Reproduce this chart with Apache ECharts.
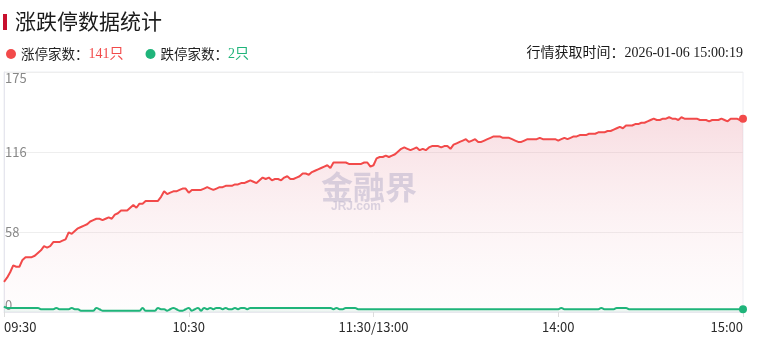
<!DOCTYPE html>
<html>
<head>
<meta charset="utf-8">
<script src="https://cdn.jsdelivr.net/npm/echarts@6/dist/echarts.min.js"></script>
<style>
html,body{margin:0;padding:0;background:#fff;}
#c{width:766px;height:359px;}
</style>
</head>
<body>
<div id="c"></div>
<script>
// ---- data ----
const titleText = '涨跌停数据统计';
const seriesNames = ['涨停家数', '跌停家数'];
const updateTime = '行情获取时间：2026-01-06 15:00:19';
const xTickLabels = ['09:30', '10:30', '11:30/13:00', '14:00', '15:00'];
const yTickLabels = ['0', '58', '116', '175'];

// limit-up counts, one per minute (09:30-11:30, 13:01-15:00)
const upCounts = [
  22,25,29,34,33,33,38,40,40,40,
  41,43,45,48,47,48,51,51,51,52,
  53,58,57,59,61,62,63,64,66,67,
  68,68,67,68,69,68,71,72,74,74,
  74,76,78,76,79,79,81,81,81,81,
  81,84,88,86,87,88,88,89,90,90,
  87,89,89,89,89,90,91,90,89,90,
  91,91,92,92,92,93,93,94,94,95,
  96,95,94,96,98,97,98,96,97,97,
  96,98,99,97,97,98,99,101,101,100,
  102,103,104,105,106,107,105,109,109,109,
  109,109,108,108,108,108,108,109,109,106,
  107,112,113,113,114,113,114,115,117,119,
  120,119,118,119,120,118,119,118,120,121,
  121,121,120,121,121,119,122,123,124,125,
  126,124,125,126,124,124,125,126,127,128,
  128,128,127,127,127,126,125,124,124,125,
  126,126,126,126,127,126,126,126,126,126,
  125,126,127,126,127,128,128,129,129,129,
  130,130,130,131,131,131,132,132,133,134,
  135,134,136,136,136,137,137,138,138,139,
  140,141,140,140,141,141,142,141,141,140,
  142,141,141,141,141,141,140,140,140,139,
  140,140,140,141,140,139,141,141,141,140,
  141
];
// limit-down counts
const downCounts = [
  4,3,3,3,3,3,3,3,3,3,
  3,3,2,2,2,2,2,3,2,2,
  2,2,3,2,2,1,1,1,1,1,
  3,2,1,1,1,1,1,1,1,1,
  1,1,1,1,1,3,1,1,1,1,
  3,2,2,1,2,3,2,1,1,2,
  3,1,2,3,1,3,2,3,2,3,
  3,2,3,2,2,3,2,3,3,2,
  3,3,3,3,3,3,3,3,3,3,
  3,3,3,3,3,3,3,3,3,3,
  3,3,3,3,3,3,3,2,3,2,
  2,3,3,3,3,2,2,2,2,2,
  2,2,2,2,2,2,2,2,2,2,
  2,2,2,2,2,2,2,2,2,2,
  2,2,2,2,2,2,2,2,2,2,
  2,2,2,2,2,2,2,2,2,2,
  2,2,2,2,2,2,2,2,2,2,
  2,2,2,2,2,2,2,2,2,2,
  2,3,2,2,2,2,2,2,2,2,
  2,2,2,2,3,2,2,2,2,3,
  3,3,3,2,2,2,2,2,2,2,
  2,2,2,2,2,2,2,2,2,2,
  2,2,2,2,2,2,2,2,2,2,
  2,2,2,2,2,2,2,2,2,2,
  2
];

// time categories
const categories = [];
function pad(n){return (n<10?'0':'')+n;}
for (let m = 9*60+30; m <= 11*60+30; m++) categories.push(pad(Math.floor(m/60))+':'+pad(m%60));
for (let m = 13*60+1; m <= 15*60; m++) categories.push(pad(Math.floor(m/60))+':'+pad(m%60));

const RED = '#f24a4a';
const GREEN = '#1fb47a';
const FONT = "'Microsoft YaHei','Noto Sans CJK SC',sans-serif";
const SERIF_NUM = "'Liberation Serif','Noto Sans CJK SC',serif";
const lastIdx = upCounts.length - 1;
const yMax = 175, yInterval = 175/3;

const chart = echarts.init(document.getElementById('c'), null, {renderer:'canvas'});
chart.setOption({
  animation: false,
  backgroundColor: '#fff',
  title: {
    text: titleText,
    left: 10, top: 6,
    textStyle: {fontSize: 21, fontWeight: 'normal', color: '#1a1a1a', fontFamily: FONT}
  },
  legend: {
    left: 1, top: 42,
    icon: 'circle',
    itemWidth: 10, itemHeight: 10, itemGap: 22,
    selectedMode: false,
    data: seriesNames,
    formatter: function(name){
      if (name === seriesNames[0]) return '{n|' + name + '：}{r|' + upCounts[lastIdx] + '只}';
      return '{n|' + name + '：}{g|' + downCounts[lastIdx] + '只}';
    },
    textStyle: {
      fontSize: 13.5, color: '#222', fontFamily: FONT,
      rich: {
        n: {fontSize: 13.5, color: '#222', fontFamily: FONT},
        r: {fontSize: 14, color: RED, fontFamily: SERIF_NUM},
        g: {fontSize: 14, color: GREEN, fontFamily: SERIF_NUM}
      }
    }
  },
  graphic: [
    {type: 'rect', left: 3, top: 14, shape: {width: 4, height: 16}, style: {fill: '#c8102e'}},
    {type: 'text', right: 23, top: 46, style: {text: updateTime, fill: '#1a1a1a', font: "14px " + SERIF_NUM}},
    {type: 'text', left: 321, top: 171, z: 10, style: {text: '金融界', fill: 'rgba(160,155,190,0.38)', font: "bold 32px " + FONT}},
    {type: 'text', left: 331, top: 201, z: 10, style: {text: 'JRJ.com', fill: 'rgba(160,155,190,0.38)', font: "bold 12px Arial, sans-serif"}}
  ],
  grid: {
    left: 4, right: 23, top: 72, bottom: 47,
    show: true, borderColor: '#eceef3', borderWidth: 1,
    containLabel: false
  },
  xAxis: {
    type: 'category',
    boundaryGap: false,
    data: categories,
    axisLine: {show: true, lineStyle: {color: '#e8e8ee'}},
    axisTick: {
      show: true, length: 5,
      interval: function(i){ return i % 60 === 0; },
      lineStyle: {color: '#dddddd'}
    },
    axisLabel: {
      interval: function(i){ return i % 60 === 0; },
      formatter: function(v, i){ return xTickLabels[Math.round(i/60)]; },
      color: '#2a2a2a', fontSize: 13, margin: 9, fontFamily: FONT,
      alignMinLabel: 'left', alignMaxLabel: 'right'
    },
    splitLine: {show: false}
  },
  yAxis: {
    type: 'value',
    min: 0, max: yMax, interval: yInterval,
    axisLine: {show: true, lineStyle: {color: '#e6e6ee'}},
    axisTick: {show: false},
    splitLine: {show: true, lineStyle: {color: '#eeeeee'}},
    axisLabel: {
      inside: true, margin: 1,
      color: '#888', fontSize: 13, fontFamily: FONT,
      formatter: function(v){
        const k = Math.round(v / yInterval);
        const s = yTickLabels[k];
        if (k === yTickLabels.length - 1) return '{t|' + s + '}';
        if (k === 0) return '{b|' + s + '}';
        return s;
      },
      rich: {
        t: {padding: [13, 0, 0, 0], color: '#888', fontSize: 13, fontFamily: FONT},
        b: {padding: [0, 0, 13, 0], color: '#888', fontSize: 13, fontFamily: FONT}
      }
    }
  },
  series: [
    {
      name: seriesNames[0],
      type: 'line',
      data: upCounts,
      showSymbol: true, showAllSymbol: true,
      symbol: 'circle',
      symbolSize: function(v, p){ return p.dataIndex === lastIdx ? 8 : 0; },
      itemStyle: {color: RED},
      lineStyle: {color: RED, width: 2},
      areaStyle: {
        color: new echarts.graphic.LinearGradient(0, 0, 0, 1, [
          {offset: 0, color: 'rgba(232,140,155,0.42)'},
          {offset: 1, color: 'rgba(245,215,222,0.08)'}
        ])
      },
      z: 2
    },
    {
      name: seriesNames[1],
      type: 'line',
      data: downCounts,
      smooth: true,
      showSymbol: true, showAllSymbol: true,
      symbol: 'circle',
      symbolSize: function(v, p){ return p.dataIndex === lastIdx ? 8 : 0; },
      itemStyle: {color: GREEN},
      lineStyle: {color: GREEN, width: 2},
      areaStyle: {color: 'rgba(40,170,120,0.10)'},
      z: 3
    }
  ]
});
</script>
</body>
</html>
